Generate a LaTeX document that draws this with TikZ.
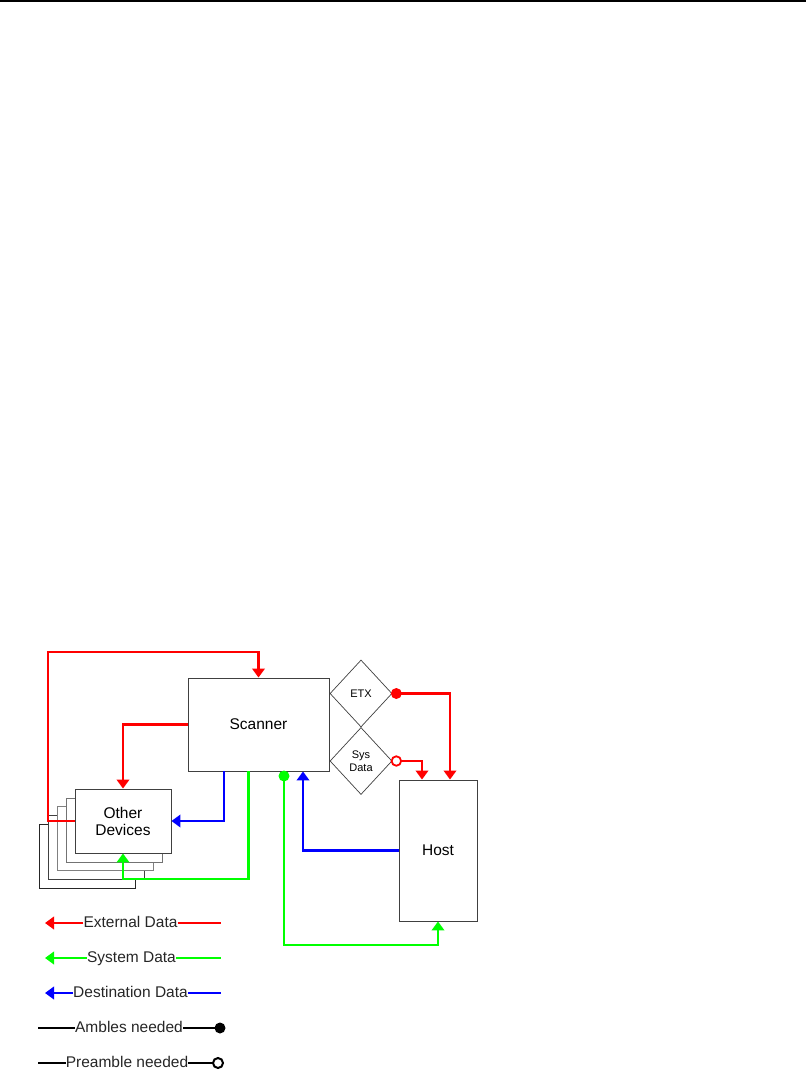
\documentclass[tikz,border=0pt]{standalone}
\usepackage{fontspec}
\setmainfont{Liberation Sans}
\usetikzlibrary{shapes.geometric,arrows.meta}
\begin{document}
\begin{tikzpicture}[x=1pt,y=-1pt,
  box/.style={draw=black!75,line width=0.9pt,fill=white,inner sep=0pt,font=\fontsize{15.5}{17}\selectfont,align=center},
  backbox/.style={draw=#1,line width=0.9pt,fill=white,minimum width=96pt,minimum height=64pt,inner sep=0pt},
  dia/.style={draw=black!75,line width=0.7pt,shape=diamond,fill=white,inner sep=0pt,minimum width=62pt,minimum height=67pt,font=\fontsize{11}{13}\selectfont,align=center},
  tip/.style={-{Triangle[width=12.5pt,length=9pt]}},
  ext/.style={draw={rgb,255:red,255;green,0;blue,0},line width=2.2pt},
  sysd/.style={draw={rgb,255:red,0;green,255;blue,0},line width=2.2pt},
  dest/.style={draw={rgb,255:red,0;green,0;blue,255},line width=2.2pt},
  blk/.style={draw=black,line width=2.2pt},
  leg/.style={inner sep=0pt,font=\fontsize{15.5}{17}\selectfont,text=black!85,text height=11.5pt,text depth=3.5pt}
]
\useasboundingbox (0,0) rectangle (810,1079);
\draw[line width=1.5pt] (0,0.75) -- (806,0.75);

% stacked devices
\node[backbox=black!85] (od5) at (87,856) {};
\node[backbox=black!75] (od4) at (96,847) {};
\node[backbox=black!50] (od3) at (105,838) {};
\node[backbox=black!55] (od2) at (114,830) {};
\node[box,minimum width=96pt,minimum height=64pt] (other) at (123,821) {Other\\Devices};

\node[box,minimum width=141pt,minimum height=93pt] (scanner) at (258.5,724.5) {Scanner};
\node[box,minimum width=78pt,minimum height=141pt] (host) at (438,850.5) {Host};
\node[dia] (etx) at (361,693.5) {ETX};
\node[dia] (sys) at (361,761) {Sys\\Data};

% red connectors
\coordinate (r1) at (48,652);
\draw[ext,tip] (other.west) -| (r1) -| (scanner.north);
\draw[ext,tip] (scanner.west) -| (other.north);
\fill[red] ([xshift=4pt]etx.east) circle (5.5pt);
\node[circle,draw=red,line width=1.8pt,minimum size=9.5pt,inner sep=0pt] (oc) at ([xshift=4pt]sys.east) {};
\draw[ext,tip] ([xshift=4pt]etx.east) -| ([xshift=12pt]host.north);
\draw[ext,tip] (oc.east) -| ([xshift=-16pt]host.north);

% blue connectors
\draw[dest,tip] ([xshift=-34.5pt]scanner.south) |- (other.east);
\draw[dest,tip] (host.west) -| ([xshift=44.5pt]scanner.south);

% green connectors
\coordinate (g1) at (248.5,879);
\draw[sysd,tip] ([xshift=-10pt]scanner.south) -- (g1) -| (other.south);
\coordinate (gd) at (284,776);
\coordinate (g2) at (284,945);
\fill[green] (gd) circle (5.5pt);
\draw[sysd,tip] (gd) -- (g2) -| (host.south);

% legend
\node[leg] (t1) at (130.5,923) {External Data};
\coordinate (l1a) at (45,923); \coordinate (l1b) at (221,923);
\draw[ext,tip] (t1.west) -- (l1a);
\draw[ext] (t1.east) -- (l1b);

\node[leg] (t2) at (131.5,958) {System Data};
\coordinate (l2a) at (45,958); \coordinate (l2b) at (221,958);
\draw[sysd,tip] (t2.west) -- (l2a);
\draw[sysd] (t2.east) -- (l2b);

\node[leg] (t3) at (130.5,993) {Destination Data};
\coordinate (l3a) at (45,993); \coordinate (l3b) at (221,993);
\draw[dest,tip] (t3.west) -- (l3a);
\draw[dest] (t3.east) -- (l3b);

\node[leg] (t4) at (129,1028) {Ambles needed};
\coordinate (l4a) at (38,1028); \coordinate (l4b) at (220,1028);
\draw[blk] (l4a) -- (t4.west);
\draw[blk] (t4.east) -- (l4b);
\fill[black] (l4b) circle (5.5pt);

\node[leg] (t5) at (127,1063) {Preamble needed};
\coordinate (l5a) at (38,1063);
\node[circle,draw=black,line width=2pt,minimum size=10pt,inner sep=0pt] (l5c) at (218,1063) {};
\draw[blk] (l5a) -- (t5.west);
\draw[blk] (t5.east) -- (l5c.west);
\end{tikzpicture}
\end{document}
